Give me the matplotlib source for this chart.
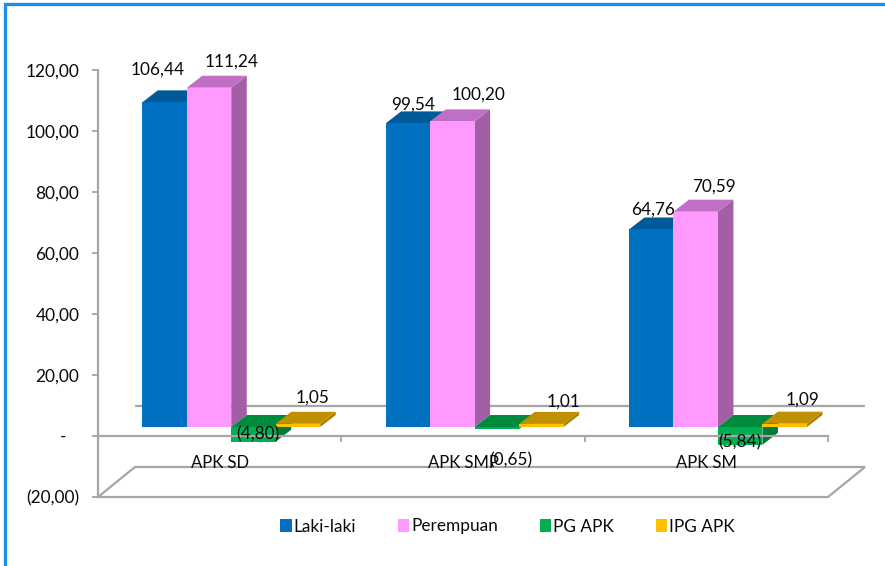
import matplotlib
matplotlib.use("Agg")
import matplotlib.pyplot as plt
from matplotlib.patches import Polygon, Rectangle

plt.rcParams['font.family'] = ['Lato', 'DejaVu Sans']

categories = ['APK SD', 'APK SMP', 'APK SM']
laki = [106.44, 99.54, 64.76]
perempuan = [111.24, 100.20, 70.59]
pg_apk = [-4.80, -0.65, -5.84]
ipg_apk = [1.05, 1.01, 1.09]
series_names = ['Laki-laki', 'Perempuan', 'PG APK', 'IPG APK']
y_ticks = [-20, 0, 20, 40, 60, 80, 100, 120]
y_tick_labels = ['(20,00)', '-   ', '20,00', '40,00', '60,00', '80,00', '100,00', '120,00']

front = ['#0070C0', '#FF99FF', '#00B050', '#FFC000']
top = ['#005A9A', '#C070C4', '#008A3E', '#BF9000']
side = ['#00508A', '#A35FA6', '#007A38', '#A87F00']
ink = '#0A0A0A'

W, H = 885, 566
fig = plt.figure(figsize=(W / 100, H / 100), dpi=100)
ax = fig.add_axes([98 / W, 1 - 497 / H, 730 / W, 427 / H])
ax.set_xlim(-0.5, 2.5)
ax.set_ylim(-20, 120)

PX = 3 / 730        # data x per pixel
PY = 140 / 427      # data y per pixel
bar_w = 44.5 * PX
base_dx, base_dy = 11.6 * PX, 9 * PY
dep_x, dep_y = 15.5 * PX, 12 * PY
wall_dx, wall_dy = 37 * PX, 30 * PY

# frame
fig.add_artist(Rectangle((4.5 / W, -0.02), 1.1, 1 - 3.5 / H + 0.02, transform=fig.transFigure,
                         fill=False, edgecolor='#1E8FE6', linewidth=2.4))

# back wall and floor
grey = '#A6A6A6'
line_w = 1.6
x0, x1 = ax.get_xlim()
ax.plot([x0 + wall_dx, x1 + wall_dx], [wall_dy, wall_dy], color=grey, lw=line_w, zorder=0.5,
        clip_on=False, solid_capstyle='butt')
ax.add_patch(Polygon([(x0, -20), (x0 + wall_dx, -20 + wall_dy), (x1 + wall_dx, -20 + wall_dy), (x1, -20)],
                     closed=True, fill=False, edgecolor=grey, lw=line_w, zorder=0.5, clip_on=False))

# bars
all_series = [laki, perempuan, pg_apk, ipg_apk]
handles = []
for s, vals in enumerate(all_series):
    offs = (s - 1.5) * bar_w + base_dx
    xs = [i + offs for i in range(len(vals))]
    z = 1 + s
    # side and top faces
    for x, v in zip(xs, vals):
        l, r = x - bar_w / 2, x + bar_w / 2
        b, t = base_dy, base_dy + max(v, 0)
        low = base_dy + min(v, 0)
        ax.add_patch(Polygon([(r, low), (r, t), (r + dep_x, t + dep_y), (r + dep_x, low + dep_y)],
                             facecolor=side[s], edgecolor='none', zorder=z, clip_on=False))
        ax.add_patch(Polygon([(l, t), (r, t), (r + dep_x, t + dep_y), (l + dep_x, t + dep_y)],
                             facecolor=top[s], edgecolor='none', zorder=z, clip_on=False))
    h = ax.bar(xs, vals, bar_w, bottom=base_dy, color=front[s], edgecolor='none', zorder=z + 0.1,
               label=series_names[s])
    handles.append(h)

# value labels: offsets in pixels from each bar's end
label_offsets = [
    [(-7, 33), (5, 19), (2, 20)],
    [(23, 26.5), (26, 27), (18, 25)],
    [(4, 7), (14, -31), (0, 2)],
    [(15, 26), (22, 22.5), (18, 24)],
]
for s, vals in enumerate(all_series):
    offs = (s - 1.5) * bar_w + base_dx
    for i, v in enumerate(vals):
        txt = f'{abs(v):.2f}'.replace('.', ',')
        if v < 0:
            txt = f'({txt})'
        ax.annotate(txt, (i + offs, base_dy + v), xytext=label_offsets[s][i], textcoords='offset pixels',
                    ha='center', va='center', fontsize=12.4, color=ink, zorder=10,
                    annotation_clip=False)

# axes
for name in ('top', 'right'):
    ax.spines[name].set_visible(False)
for name in ('left', 'bottom'):
    ax.spines[name].set_color(grey)
    ax.spines[name].set_linewidth(line_w)
    ax.spines[name].set_zorder(8)
ax.spines['bottom'].set_position(('data', 0))

ax.set_yticks(y_ticks)
ax.set_yticklabels(y_tick_labels, fontsize=12.4, color=ink)
ax.tick_params(axis='y', length=4.5, width=1.3, color=grey, pad=9)
ax.set_xticks([-0.5, 0.5, 1.5, 2.5])
ax.set_xticklabels([])
ax.set_xticks([0, 1, 2], minor=True)
ax.set_xticklabels(categories, minor=True, fontsize=12, color=ink)
ax.tick_params(axis='x', which='major', length=4, width=1.3, color=grey, direction='out')
ax.tick_params(axis='x', which='minor', length=0, pad=14)

ax.legend(handles=handles, loc='center', bbox_to_anchor=(507.5 / W, 1 - 526.5 / H),
          bbox_transform=fig.transFigure, ncol=4, frameon=False, fontsize=12.4,
          handlelength=0.68, handleheight=0.7, handletextpad=0.12, columnspacing=2.4,
          borderpad=0, labelcolor=ink)

fig.savefig('out.png', dpi=100)
